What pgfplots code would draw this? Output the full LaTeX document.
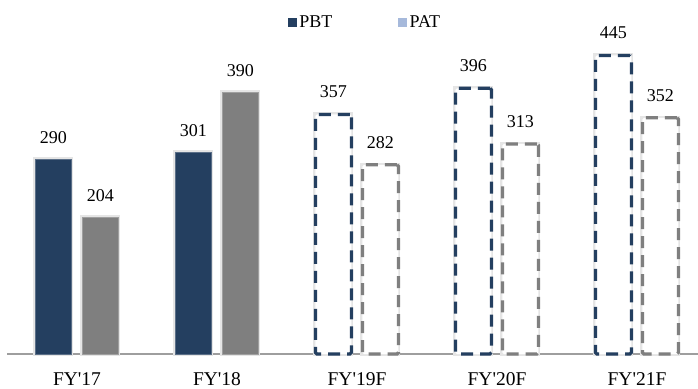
\documentclass[border=0pt]{standalone}
\usepackage{pgfplots}
\pgfplotsset{compat=1.18}
\usepackage{fontspec}
\setmainfont{Liberation Serif}
\definecolor{navy}{HTML}{243F60}
\definecolor{grayb}{HTML}{7F7F7F}
\definecolor{lblue}{HTML}{A6B9DB}
\begin{document}
\begin{tikzpicture}
\begin{axis}[
  scale only axis,
  width=691pt, height=354pt,
  xmin=-0.5, xmax=4.436,
  ymin=0, ymax=527.6,
  axis x line=bottom,
  axis y line=none,
  axis line style={draw=black!38, line width=1.6pt, -},
  xtick={0,1,2,3,4},
  xticklabels={FY\textquotesingle17,FY\textquotesingle18,FY\textquotesingle19F,FY\textquotesingle20F,FY\textquotesingle21F},
  xtick style={draw=none},
  xticklabel style={font=\fontsize{19.5}{22}\selectfont, anchor=base, yshift=-27pt, inner sep=0pt},
  ybar,
  bar width=36pt,
  nodes near coords,
  nodes near coords style={font=\fontsize{18}{20}\selectfont, black, inner sep=0pt, anchor=south, yshift=15pt},
  every node near coord/.append style={/pgf/number format/assume math mode=true},
  legend style={at={(0.518,0.937)}, anchor=center, draw=none, fill=none,
    legend columns=2,
    /tikz/every odd column/.append style={column sep=1pt},
    /tikz/every even column/.append style={column sep=64pt},
    font=\fontsize{18}{20}\selectfont},
  legend cell align=left,
  clip=false,
]
\addlegendimage{legend image code/.code={\fill[navy] (0pt,-4pt) rectangle (8pt,4pt);}}
\addlegendentry{PBT}
\addlegendimage{legend image code/.code={\fill[lblue] (0pt,-4pt) rectangle (8pt,4pt);}}
\addlegendentry{PAT}
% soft shadows
\addplot[bar shift=-23.5pt, fill=none, draw=black!10, line width=4pt, forget plot, nodes near coords={}]
  coordinates {(0,290) (1,301) (2,357) (3,396) (4,445)};
\addplot[bar shift=23.5pt, fill=none, draw=black!10, line width=4pt, forget plot, nodes near coords={}]
  coordinates {(0,204) (1,390) (2,282) (3,313) (4,352)};
% actual
\addplot[bar shift=-23.5pt, fill=navy, draw=navy!75!white, line width=0.6pt, forget plot]
  coordinates {(0,290) (1,301)};
\addplot[bar shift=23.5pt, fill=grayb, draw=grayb!75!white, line width=0.6pt, forget plot]
  coordinates {(0,204) (1,390)};
% forecast
\addplot[bar shift=-23.5pt, fill=white, draw=navy, line width=3.2pt, dash pattern=on 12pt off 7pt, rounded corners=1.5pt, forget plot]
  coordinates {(2,357) (3,396) (4,445)};
\addplot[bar shift=23.5pt, fill=white, draw=grayb, line width=3.2pt, dash pattern=on 12pt off 7pt, rounded corners=1.5pt, forget plot]
  coordinates {(2,282) (3,313) (4,352)};
\end{axis}
\pgfresetboundingbox
\path[use as bounding box] (-7pt,-34pt) rectangle (691pt,354pt);
\end{tikzpicture}
\end{document}
